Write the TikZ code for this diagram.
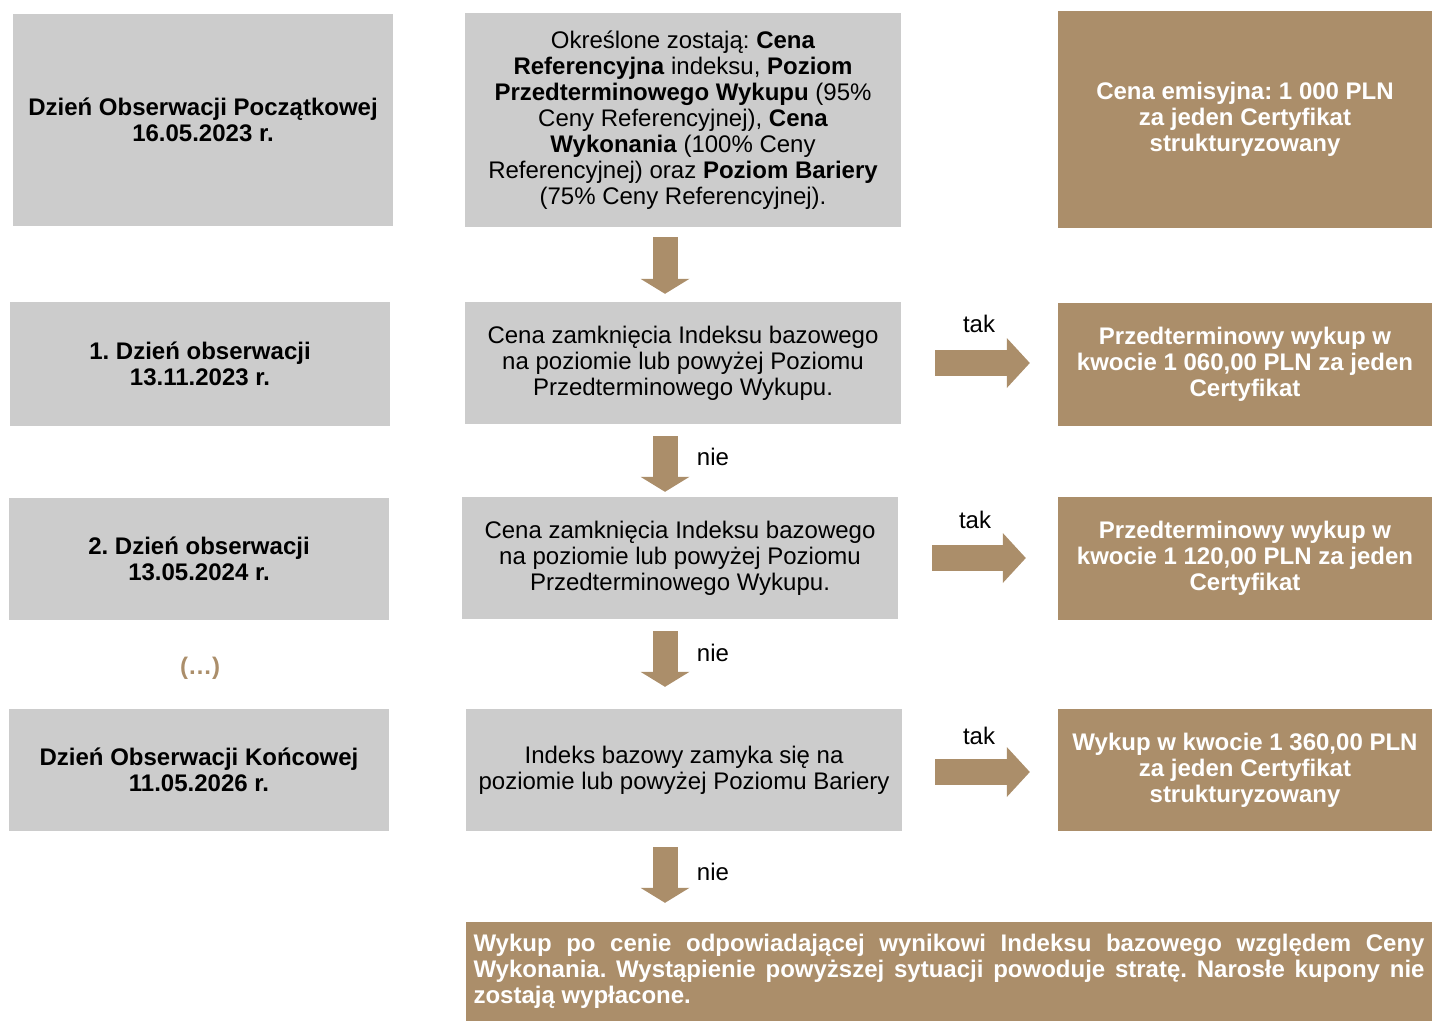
\documentclass[tikz,border=0pt]{standalone}
\usepackage{fontspec}
\setmainfont{Liberation Sans}
\frenchspacing
\usetikzlibrary{arrows.meta}

\definecolor{szary}{RGB}{204,204,204}
\definecolor{braz}{RGB}{171,142,106}
\newcommand{\rozmiar}{\fontsize{24}{26}\selectfont}

\tikzset{
    dzien/.style={fill=szary, align=center, font=\rozmiar\bfseries, minimum width=380pt, minimum height=122pt},
    warunek/.style={fill=szary, align=center, font=\rozmiar, minimum width=436pt, minimum height=122pt},
    wynik/.style={fill=braz, text=white, align=center, font=\rozmiar\bfseries, minimum width=374pt, minimum height=123pt},
    strzalka/.style={draw=braz, line width=25pt, -{Triangle[width=49pt,length=15pt,line width=0pt]}},
    strzalkaw/.style={draw=braz, line width=26pt, -{Triangle[width=50pt,length=23pt,line width=0pt]}},
    opis/.style={font=\rozmiar},
}

\begin{document}
\begin{tikzpicture}[x=1pt, y=-1pt]
    \useasboundingbox (0,0) rectangle (1432,1021);
    \coordinate (kol) at (665,0);

    % dni obserwacji
    \node[dzien, minimum height=212pt] (d0) at (203,120) {Dzień Obserwacji Początkowej\\16.05.2023 r.};
    \node[dzien, minimum height=124pt] (d1) at (200,364) {1. Dzień obserwacji\\13.11.2023 r.};
    \node[dzien] (d2) at (199,559) {2. Dzień obserwacji\\13.05.2024 r.};
    \node[font=\rozmiar\bfseries, text=braz] (kropki) at (200,668) {(\ldots)};
    \node[dzien] (d3) at (199,770) {Dzień Obserwacji Końcowej\\11.05.2026 r.};

    % warunki
    \node[warunek, minimum height=214pt] (w0) at (683,120) {Określone zostają: \textbf{Cena}\\\textbf{Referencyjna} indeksu, \textbf{Poziom}\\\textbf{Przedterminowego Wykupu} (95\%\\Ceny Referencyjnej), \textbf{Cena}\\\textbf{Wykonania} (100\% Ceny\\Referencyjnej) oraz \textbf{Poziom Bariery}\\(75\% Ceny Referencyjnej).};
    \node[warunek] (w1) at (683,363) {Cena zamknięcia Indeksu bazowego\\na poziomie lub powyżej Poziomu\\Przedterminowego Wykupu.};
    \node[warunek] (w2) at (680,558) {Cena zamknięcia Indeksu bazowego\\na poziomie lub powyżej Poziomu\\Przedterminowego Wykupu.};
    \node[warunek] (w3) at (684,770) {Indeks bazowy zamyka się na\\poziomie lub powyżej Poziomu Bariery};

    % wyniki
    \node[wynik, minimum height=217pt] (r0) at (1245,119.5) {Cena emisyjna: 1 000 PLN\\za jeden Certyfikat\\strukturyzowany};
    \node[wynik] (r1) at (1245,364.5) {Przedterminowy wykup w\\kwocie 1 060,00 PLN za jeden\\Certyfikat};
    \node[wynik] (r2) at (1245,558.5) {Przedterminowy wykup w\\kwocie 1 120,00 PLN za jeden\\Certyfikat};
    \node[wynik, minimum height=122pt] (r3) at (1245,770) {Wykup w kwocie 1 360,00 PLN\\za jeden Certyfikat\\strukturyzowany};
    \node[fill=braz, text=white, font=\rozmiar\bfseries, align=justify, text width=951pt, inner xsep=7.5pt, minimum height=99pt] (koniec) at (949,971.5)
        {Wykup po cenie odpowiadającej wynikowi Indeksu bazowego względem Ceny\linebreak Wykonania. Wystąpienie powyższej sytuacji powoduje stratę. Narosłe kupony nie\linebreak zostają wypłacone.};

    % strzalki w dol
    \draw[strzalka, shorten <=10pt, shorten >=8pt] (w0.south -| kol) -- (w1.north -| kol);
    \draw[strzalka, shorten <=12pt, shorten >=5pt] (w1.south -| kol) -- (w2.north -| kol);
    \draw[strzalka, shorten <=12pt, shorten >=22pt] (w2.south -| kol) -- (w3.north -| kol);
    \draw[strzalka, shorten <=16pt, shorten >=19pt] (w3.south -| kol) -- (koniec.north -| kol);
    \node[opis] (n1) at (713,457) {nie};
    \node[opis] (n2) at (713,653) {nie};
    \node[opis] (n3) at (713,872) {nie};

    % strzalki w prawo
    \draw[strzalkaw, shorten <=34pt, shorten >=28pt] (w1.east) -- (w1.east -| r1.west);
    \draw[strzalkaw, shorten <=34pt, shorten >=32pt] (w2.east) -- (w2.east -| r2.west);
    \draw[strzalkaw, shorten <=33pt, shorten >=28pt] ([yshift=-2pt]w3.east) -- ([yshift=-2pt]w3.east -| r3.west);
    \node[opis] (t1) at (979,324) {tak};
    \node[opis] (t2) at (975,520) {tak};
    \node[opis] (t3) at (979,736) {tak};
\end{tikzpicture}
\end{document}
